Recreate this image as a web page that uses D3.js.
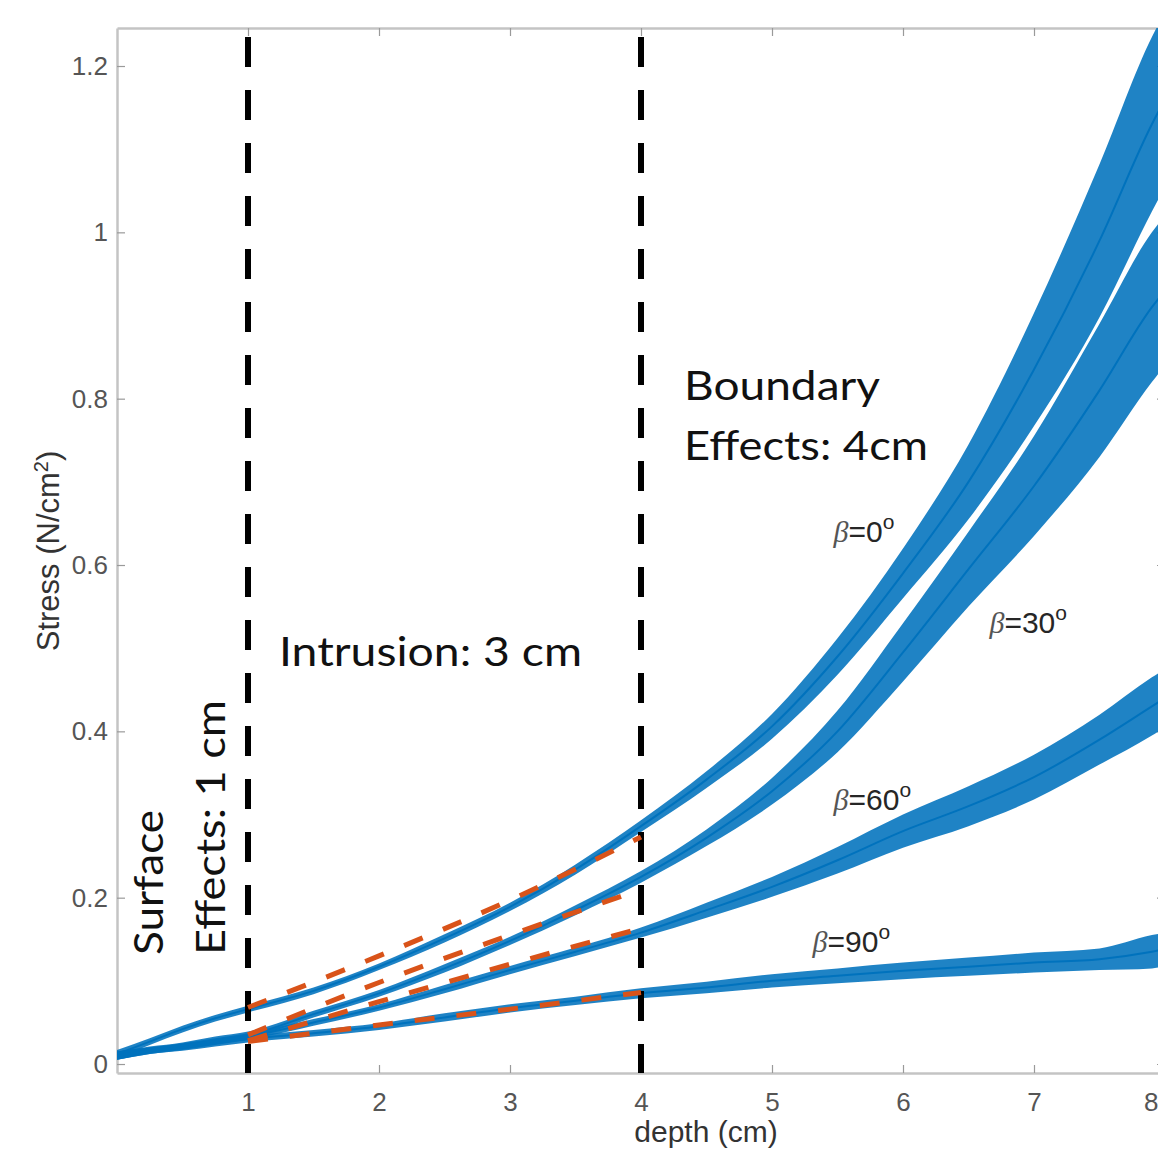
<!DOCTYPE html>
<html>
<head>
<meta charset="utf-8">
<script src="https://cdn.jsdelivr.net/npm/d3@7"></script>
<style>
  html, body { margin: 0; padding: 0; background: #fff; }
  svg { display: block; }
</style>
</head>
<body>
<svg id="chart" width="1158" height="1149"></svg>
<script>
// ---------- data ----------
const depth = [0, 0.25, 0.5, 0.75, 1, 1.5, 2, 2.5, 3, 3.5, 4, 4.5, 5, 5.5, 6, 6.5, 7, 7.5, 7.9, 8];

const beta0   = [0.012, 0.027, 0.042, 0.055, 0.066, 0.088, 0.117, 0.151, 0.189, 0.234, 0.286, 0.342, 0.406, 0.490, 0.590, 0.700, 0.835, 0.990, 1.130, 1.160];
const beta0Spread  = [0.005, 0.004, 0.004, 0.004, 0.004, 0.004, 0.004, 0.005, 0.005, 0.006, 0.007, 0.010, 0.015, 0.022, 0.030, 0.045, 0.068, 0.092, 0.105, 0.105];

const beta30  = [0.010, 0.017, 0.022, 0.029, 0.035, 0.060, 0.085, 0.115, 0.148, 0.185, 0.225, 0.272, 0.328, 0.400, 0.495, 0.595, 0.695, 0.810, 0.910, 0.930];
const beta30Spread = [0.005, 0.004, 0.004, 0.004, 0.004, 0.004, 0.004, 0.005, 0.005, 0.006, 0.007, 0.010, 0.016, 0.025, 0.035, 0.045, 0.060, 0.080, 0.090, 0.090];

const beta60  = [0.010, 0.016, 0.021, 0.027, 0.033, 0.050, 0.068, 0.090, 0.113, 0.135, 0.158, 0.185, 0.213, 0.245, 0.280, 0.310, 0.345, 0.390, 0.430, 0.440];
const beta60Spread = [0.005, 0.004, 0.004, 0.004, 0.004, 0.004, 0.004, 0.005, 0.005, 0.005, 0.006, 0.009, 0.012, 0.016, 0.020, 0.024, 0.027, 0.030, 0.035, 0.035];

const beta90  = [0.010, 0.016, 0.020, 0.025, 0.030, 0.037, 0.045, 0.056, 0.067, 0.076, 0.085, 0.092, 0.100, 0.106, 0.112, 0.117, 0.122, 0.126, 0.135, 0.138];
const beta90Spread = [0.005, 0.004, 0.004, 0.004, 0.004, 0.004, 0.004, 0.005, 0.005, 0.005, 0.006, 0.007, 0.008, 0.009, 0.010, 0.011, 0.012, 0.013, 0.020, 0.020];

// fitted (orange dashed) lines inside the intrusion zone
const fitDepth = [1, 2, 3, 4];
const fit0  = [0.068, 0.130, 0.197, 0.273];
const fit30 = [0.035, 0.098, 0.155, 0.210];
const fit60 = [0.028, 0.075, 0.120, 0.163];
const fit90 = [0.027, 0.047, 0.066, 0.086];

const zoneBounds = [1, 4];
const xTicks = [1, 2, 3, 4, 5, 6, 7, 8];
const yTicks = [0, 0.2, 0.4, 0.6, 0.8, 1, 1.2];
const yTickLabels = ["0", "0.2", "0.4", "0.6", "0.8", "1", "1.2"];

const seriesLabels = [
  {deg: "0",  x: 5.47, y: 0.628},
  {deg: "30", x: 6.66, y: 0.518},
  {deg: "60", x: 5.47, y: 0.305},
  {deg: "90", x: 5.31, y: 0.135}
];

// ---------- drawing ----------
const svg = d3.select("#chart");
const xS = d3.scaleLinear().domain([0, 8]).range([117, 1165]);
const yS = d3.scaleLinear().domain([-0.0108, 1.2457]).range([1073, 28]);

const blue = "#0072BD", orange = "#D95319";
const axisGray = "#c4c4c4", labelGray = "#555555";
const arial = "'Liberation Sans', Arial, sans-serif";

svg.append("defs").append("clipPath").attr("id", "plotclip")
  .append("rect").attr("x", xS(0)).attr("y", yS(1.2457))
  .attr("width", xS(8) - xS(0)).attr("height", yS(-0.0108) - yS(1.2457));

// axes box
const axG = svg.append("g");
axG.append("g").attr("transform", `translate(${xS(0)},0)`)
  .call(d3.axisLeft(yS).tickValues(yTicks).tickFormat((d, i) => yTickLabels[i]).tickSizeInner(-8).tickSizeOuter(0).tickPadding(9));
axG.append("g").attr("transform", `translate(${xS(8)},0)`)
  .call(d3.axisRight(yS).tickValues(yTicks).tickFormat("").tickSizeInner(-8).tickSizeOuter(0));
const bottomAxis = axG.append("g").attr("transform", `translate(0,${yS(-0.0108)})`)
  .call(d3.axisBottom(xS).tickValues(xTicks).tickFormat(d3.format("d")).tickSizeInner(-8).tickSizeOuter(0).tickPadding(20));
axG.append("g").attr("transform", `translate(0,${yS(1.2457)})`)
  .call(d3.axisTop(xS).tickValues(xTicks).tickFormat("").tickSizeInner(-8).tickSizeOuter(0));

axG.selectAll(".domain").attr("stroke", axisGray).attr("stroke-width", 2.5);
axG.selectAll(".tick line").attr("stroke", "#9a9a9a").attr("stroke-width", 1.2);
axG.selectAll(".tick text").attr("fill", labelGray)
  .style("font-family", arial).style("font-size", "26px");
// last x label sits at the clipped right edge: keep it fully inside the picture
bottomAxis.selectAll(".tick").filter(d => d === 8).select("text")
  .attr("text-anchor", "end").attr("x", -7);

// axis titles
svg.append("text").attr("x", 706).attr("y", 1142).attr("text-anchor", "middle")
  .attr("fill", "#333").style("font-family", arial).style("font-size", "30px")
  .text("depth (cm)");
const yl = svg.append("text").attr("transform", "translate(59,551) rotate(-90)").attr("text-anchor", "middle")
  .attr("fill", "#333").style("font-family", arial).style("font-size", "31px");
yl.append("tspan").text("Stress (N/cm");
yl.append("tspan").attr("dy", -11).style("font-size", "20px").text("2");
yl.append("tspan").attr("dy", 11).text(")");

// data
const plot = svg.append("g").attr("clip-path", "url(#plotclip)");
const seriesList = [
  {v: beta0, s: beta0Spread},
  {v: beta30, s: beta30Spread},
  {v: beta60, s: beta60Spread},
  {v: beta90, s: beta90Spread}
];
const area = d3.area().x(d => xS(d.d)).y0(d => yS(d.v - d.s)).y1(d => yS(d.v + d.s)).curve(d3.curveMonotoneX);
const line = d3.line().x(d => xS(d.d)).y(d => yS(d.v)).curve(d3.curveMonotoneX);
seriesList.forEach(ser => {
  const pts = depth.map((d, i) => ({d: d, v: ser.v[i], s: ser.s[i]}));
  plot.append("path").datum(pts).attr("d", area).attr("fill", blue).attr("fill-opacity", 0.88);
  plot.append("path").datum(pts).attr("d", line).attr("fill", "none").attr("stroke", blue).attr("stroke-width", 2);
});

// zone boundaries
zoneBounds.forEach(b => {
  plot.append("line").attr("x1", xS(b)).attr("x2", xS(b)).attr("y1", 37).attr("y2", yS(-0.0108))
    .attr("stroke", "#000").attr("stroke-width", 6).attr("stroke-dasharray", "30,23");
});

// fitted lines
const fitLine = d3.line().x(d => xS(d.d)).y(d => yS(d.v)).curve(d3.curveMonotoneX);
[fit0, fit30, fit60, fit90].forEach(f => {
  const pts = fitDepth.map((d, i) => ({d: d, v: f[i]}));
  plot.append("path").datum(pts).attr("d", fitLine).attr("fill", "none")
    .attr("stroke", orange).attr("stroke-width", 5).attr("stroke-dasharray", "20,22");
});

// annotations
const annFont = "Lato, 'Open Sans', sans-serif";
function ann(txt, px, py, len, rot) {
  const t = svg.append("text").attr("fill", "#111").style("font-family", annFont).style("font-size", "40px")
    .attr("textLength", len).attr("lengthAdjust", "spacingAndGlyphs").text(txt);
  if (rot) t.attr("transform", `translate(${px},${py}) rotate(-90)`);
  else t.attr("x", px).attr("y", py);
  return t;
}
ann("Boundary", 684, 400, 196);
ann("Effects: 4cm", 684, 460, 244);
ann("Intrusion: 3 cm", 279, 666, 303);
ann("Surface", 163, 955, 145, true);
ann("Effects: 1 cm", 225, 955, 255, true);

// series labels
seriesLabels.forEach(l => {
  const t = svg.append("text").attr("x", xS(l.x)).attr("y", yS(l.y)).attr("fill", "#262626")
    .style("font-family", arial).style("font-size", "30px");
  t.append("tspan").style("font-family", "'Liberation Serif', serif").style("font-style", "italic").attr("fill", "#555").text("β");
  t.append("tspan").text("=" + l.deg);
  t.append("tspan").attr("dy", -13).style("font-size", "21px").text("o");
});
</script>
</body>
</html>
